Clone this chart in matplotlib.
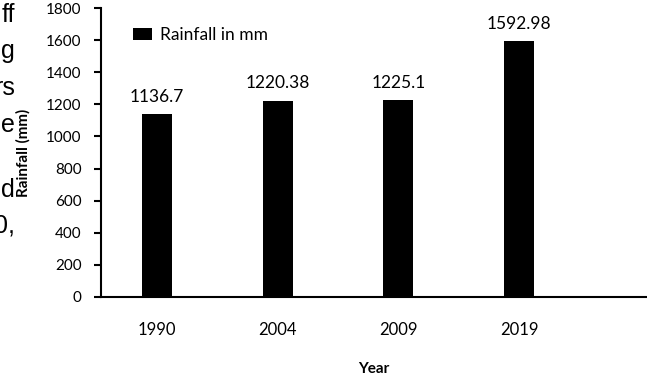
import numpy as np
import matplotlib.pyplot as plt

years = ['1990', '2004', '2009', '2019']
rainfall = [1136.7, 1220.38, 1225.1, 1592.98]
value_labels = ['1136.7', '1220.38', '1225.1', '1592.98']
yticks = [0, 200, 400, 600, 800, 1000, 1200, 1400, 1600, 1800]

# bits of body text cut off at the left edge of the page (text, baseline px)
side_text = [('ff', 22), ('g', 58), ('rs', 95), ('e', 132), ('d', 197), ('0,', 233)]

W, H = 647, 376
fig = plt.figure(figsize=(W / 100, H / 100), dpi=100)
ax = fig.add_axes([101 / W, (H - 297) / H, 1 - 101 / W, (297 - 8) / H])

font = 'Lato'
x = np.arange(len(years))
bars = ax.bar(x, rainfall, width=0.25, color='black', label='Rainfall in mm')

for xi, v, lab in zip(x, rainfall, value_labels):
    ax.annotate(lab, (xi, v), xytext=(0, 7), textcoords='offset points',
                ha='center', va='bottom', fontsize=12.5, family=font)

ax.set_xlim(-0.464, 4.06)
ax.set_ylim(0, 1800)
ax.set_yticks(yticks)
ax.set_yticklabels([str(t) for t in yticks], fontsize=11, family=font)
ax.set_xticks(x)
ax.set_xticklabels(years, fontsize=12, family=font)
ax.tick_params(axis='x', length=0, pad=18)
ax.tick_params(axis='y', length=5, width=1.5, direction='out', pad=9)

for s in ['top', 'right']:
    ax.spines[s].set_visible(False)
for s in ['left', 'bottom']:
    ax.spines[s].set_linewidth(1.5)

ax.set_ylabel('Rainfall (mm)', fontsize=11, fontweight='bold', family=font, labelpad=11)
ax.set_xlabel('Year', fontsize=11, fontweight='bold', family=font, labelpad=17)

ax.legend(loc='center left', bbox_to_anchor=(0.0586, 0.9066), frameon=False,
          prop={'family': font, 'size': 12.5}, handlelength=1.1, handleheight=0.65,
          handletextpad=0.45, borderpad=0, borderaxespad=0)

for t, yp in side_text:
    fig.text(15 / W, 1 - yp / H, t, ha='right', va='baseline', fontsize=18,
             family='Liberation Sans')

fig.savefig('out.png', dpi=100)
